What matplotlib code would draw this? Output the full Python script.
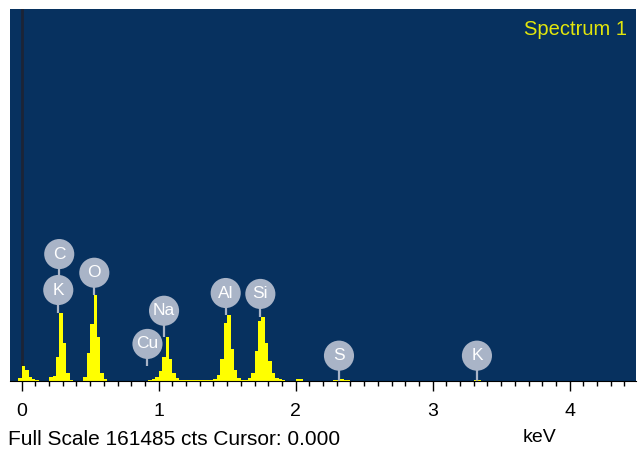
import numpy as np
import matplotlib
matplotlib.use("Agg")
import matplotlib.pyplot as plt

plt.rcParams["font.family"] = ["Liberation Sans", "DejaVu Sans"]

FULL_SCALE = 161485          # cts at the top of the plot
CHANNEL_KEV = 0.025

# counts per channel; each block starts at the given channel edge (keV)
near_zero_start = -0.025
near_zero_counts = [1300, 6500, 4800, 1700, 870, 430]
c_start = 0.200
c_counts = [1700, 2200, 10400, 29500, 16500, 3500, 430]
o_start = 0.450
o_counts = [1700, 12200, 24700, 37300, 19100, 3500, 870]
na_start = 0.925
na_counts = [430, 870, 1700, 4300, 10400, 19100, 9500, 3500, 1300]
gap_start = 1.150
gap_counts = [430] * 10
al_start = 1.400
al_counts = [870, 2600, 9500, 25200, 28600, 13900, 4800, 1300, 430]
si_start = 1.625
si_counts = [430, 1300, 3500, 13000, 26000, 27800, 16500, 8700, 3500, 1300, 870, 430]
p_start = 2.000
p_counts = [870, 870]
s_start = 2.275
s_counts = [650, 650, 700, 650, 650]
k_start = 3.300
k_counts = [650, 650]

# element markers
label_names = ["C", "K", "O", "Cu", "Na", "Al", "Si", "S", "K"]
label_keV = [0.274, 0.267, 0.530, 0.918, 1.039, 1.489, 1.742, 2.316, 3.323]
# layout: circle height and where its stem ends (cts)
label_y = [55100, 39500, 47000, 16100, 30500, 38200, 37800, 11000, 11000]
stem_end = [39500, 29500, 37300, 6500, 19100, 28600, 27800, 0, 0]

blocks = [
    (near_zero_start, near_zero_counts), (c_start, c_counts), (o_start, o_counts),
    (na_start, na_counts), (gap_start, gap_counts), (al_start, al_counts),
    (si_start, si_counts), (p_start, p_counts), (s_start, s_counts), (k_start, k_counts),
]

first_ch, last_ch = -4, 180
counts = np.zeros(last_ch - first_ch)
for start, vals in blocks:
    i = int(round(start / CHANNEL_KEV)) - first_ch
    counts[i:i + len(vals)] = vals
edges = np.arange(first_ch, last_ch + 1) * CHANNEL_KEV

BG = "#07315f"
YELLOW = "#ffff00"
BUBBLE = "#a9b4c7"

fig = plt.figure(figsize=(6.38, 4.5), dpi=100)
ax = fig.add_axes([10 / 638, 69 / 450, 626 / 638, 372 / 450])
ax.set_facecolor(BG)
ax.set_xlim(-0.0854, 4.484)
ax.set_ylim(0, FULL_SCALE)

ax.axvline(0, color="#1c2436", lw=2, zorder=1)
ax.stairs(counts, edges, fill=True, color=YELLOW, lw=0, zorder=2)

ax.vlines(label_keV, stem_end, label_y, color=BUBBLE, lw=1.6, zorder=3)
ax.scatter(label_keV, label_y, s=470, color=BUBBLE, edgecolors="none", zorder=4)
for name, x, y in zip(label_names, label_keV, label_y):
    ax.text(x, y, name, ha="center", va="center", color="white", fontsize=12.5, zorder=5)

ax.text(0.985, 0.97, "Spectrum 1", transform=ax.transAxes, ha="right", va="top",
        color="#e2e60c", fontsize=14.5)

for side in ("left", "right", "top"):
    ax.spines[side].set_visible(False)
ax.spines["bottom"].set_color("black")
ax.set_yticks([])
ax.set_xticks([0, 1, 2, 3, 4])
ax.set_xticklabels(["0", "1", "2", "3", "4"])
ax.set_xticks(np.arange(0, 4.45, 0.1), minor=True)
ax.tick_params(axis="x", which="major", direction="out", length=7, width=1,
               labelsize=14, pad=9, colors="black")
ax.tick_params(axis="x", which="minor", direction="out", length=3.6, width=1)

fig.text(540 / 638, 8 / 450, "keV", ha="center", va="baseline", fontsize=14)
fig.text(8 / 638, 5 / 450, "Full Scale 161485 cts Cursor: 0.000", ha="left",
         va="baseline", fontsize=15)

fig.savefig("out.png", dpi=100, facecolor="white")
